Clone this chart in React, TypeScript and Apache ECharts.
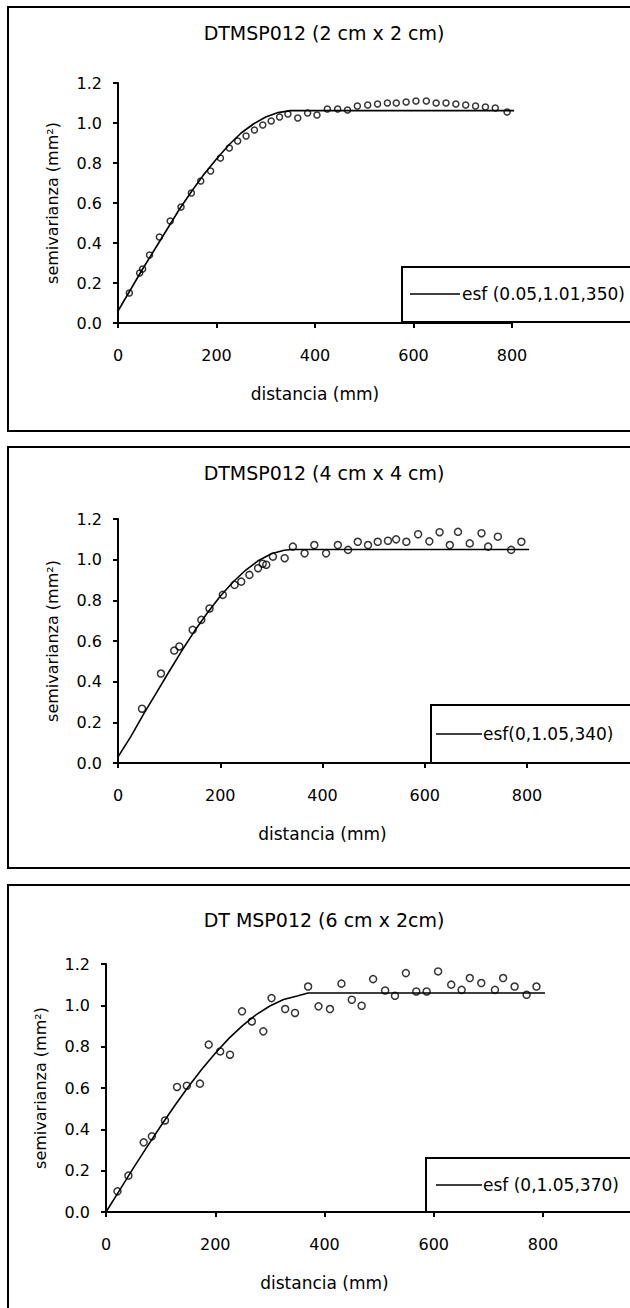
import React, { useEffect, useRef } from "react";
import * as echarts from "echarts";

// ---------- data ----------
const panelTitles = ["DTMSP012 (2 cm x 2 cm)", "DTMSP012 (4 cm x 4 cm)", "DT MSP012 (6 cm x 2cm)"];
const legendLabels = ["esf (0.05,1.01,350)", "esf(0,1.05,340)", "esf (0,1.05,370)"];
const xAxisName = "distancia (mm)";
const yAxisName = "semivarianza (mm²)";
const xTickStep = 200;
const xMax = 800;
const yTickStep = 0.2;
const yMax = 1.2;

// experimental semivariogram points [distance mm, semivariance]
const points1 = [
  [23, 0.15], [44, 0.25], [50, 0.27], [64, 0.34], [84, 0.43], [106, 0.51], [128, 0.58],
  [149, 0.65], [168, 0.71], [188, 0.76], [208, 0.825], [226, 0.875], [243, 0.91], [260, 0.935],
  [277, 0.965], [294, 0.99], [311, 1.01], [328, 1.03], [345, 1.045], [365, 1.025], [385, 1.05],
  [404, 1.04], [425, 1.07], [446, 1.07], [466, 1.065], [486, 1.085], [507, 1.09], [527, 1.095],
  [547, 1.1], [565, 1.1], [585, 1.105], [605, 1.11], [626, 1.11], [646, 1.1], [666, 1.1],
  [686, 1.095], [706, 1.09], [726, 1.085], [746, 1.08], [766, 1.075], [790, 1.055],
];
const points2 = [
  [47, 0.267], [84, 0.44], [110, 0.553], [120, 0.573], [146, 0.655], [163, 0.704], [179, 0.76],
  [205, 0.827], [228, 0.876], [241, 0.892], [257, 0.925], [274, 0.958], [283, 0.98], [290, 0.975],
  [303, 1.015], [326, 1.007], [342, 1.064], [365, 1.031], [384, 1.072], [407, 1.031], [430, 1.072],
  [450, 1.048], [469, 1.088], [489, 1.072], [508, 1.088], [528, 1.093], [544, 1.1], [564, 1.088],
  [587, 1.125], [609, 1.09], [629, 1.135], [649, 1.072], [665, 1.137], [688, 1.08], [711, 1.13],
  [724, 1.064], [743, 1.113], [769, 1.048], [789, 1.088],
];
const points3 = [
  [21, 0.1], [41, 0.176], [69, 0.337], [84, 0.366], [108, 0.443], [130, 0.605], [148, 0.611],
  [172, 0.621], [188, 0.81], [209, 0.777], [227, 0.761], [249, 0.971], [267, 0.922], [288, 0.874],
  [303, 1.035], [328, 0.982], [346, 0.963], [370, 1.091], [389, 0.995], [410, 0.982], [431, 1.105],
  [450, 1.027], [468, 0.998], [489, 1.127], [511, 1.072], [529, 1.046], [549, 1.156], [568, 1.067],
  [587, 1.067], [608, 1.164], [632, 1.1], [651, 1.075], [666, 1.132], [687, 1.108], [712, 1.075],
  [727, 1.132], [748, 1.091], [770, 1.051], [788, 1.091],
];

// fitted spherical model curves [distance mm, semivariance]
const model1 = [
  [0, 0.06], [25, 0.165], [50, 0.27], [75, 0.37], [100, 0.47], [125, 0.57], [150, 0.66],
  [175, 0.745], [200, 0.82], [225, 0.89], [250, 0.95], [275, 0.995], [300, 1.03], [325, 1.052],
  [350, 1.062], [830, 1.062],
];
const model2 = [
  [0, 0.03], [25, 0.13], [50, 0.24], [75, 0.345], [100, 0.45], [125, 0.553], [150, 0.65],
  [175, 0.739], [200, 0.82], [225, 0.89], [250, 0.949], [275, 0.996], [300, 1.029], [325, 1.046],
  [340, 1.05], [830, 1.05],
];
const model3 = [
  [0, 0.0], [25, 0.106], [50, 0.212], [75, 0.315], [100, 0.415], [125, 0.512], [150, 0.604],
  [175, 0.689], [200, 0.768], [225, 0.84], [250, 0.902], [275, 0.955], [300, 0.997], [325, 1.028],
  [350, 1.045], [370, 1.06], [815, 1.06],
];

const pointSets = [points1, points2, points3];
const modelSets = [model1, model2, model3];

// ---------- layout ----------
const FONT = "DejaVu Sans";
const grids = [
  { left: 118, top: 83, width: 394, height: 240 },
  { left: 118, top: 519, width: 409, height: 244 },
  { left: 106, top: 964, width: 437, height: 248 },
];
const frames = [
  { y: 7, h: 424 },
  { y: 447, h: 421 },
  { y: 885, h: 500 },
];
const titleY = [33, 473, 920];
const legendBoxes = [
  { x: 402, y: 267, h: 55, lx1: 410, lx2: 460, ly: 294, tx: 462 },
  { x: 431, y: 705, h: 58, lx1: 436, lx2: 482, ly: 734, tx: 483 },
  { x: 426, y: 1158, h: 54, lx1: 436, lx2: 482, ly: 1185, tx: 483 },
];
const markerSizes = [6, 7, 7];

export default function App() {
  const ref = useRef<HTMLDivElement>(null);

  useEffect(() => {
    if (!ref.current) return;
    const chart = echarts.init(ref.current, undefined, { renderer: "svg" });

    const graphic: any[] = [];
    frames.forEach((f) => {
      graphic.push({
        type: "rect",
        shape: { x: 8, y: f.y, width: 700, height: f.h },
        style: { fill: "none", stroke: "#000", lineWidth: 2 },
        z: 1,
      });
    });
    panelTitles.forEach((t, i) => {
      graphic.push({
        type: "text",
        x: 324,
        y: titleY[i],
        style: {
          text: t,
          fontSize: 19,
          fontFamily: FONT,
          fill: "#000",
          align: "center",
          verticalAlign: "middle",
        },
        z: 10,
      });
    });
    legendBoxes.forEach((b, i) => {
      graphic.push({
        type: "rect",
        shape: { x: b.x, y: b.y, width: 400, height: b.h },
        style: { fill: "#fff", stroke: "#000", lineWidth: 2 },
        z: 10,
      });
      graphic.push({
        type: "line",
        shape: { x1: b.lx1, y1: b.ly, x2: b.lx2, y2: b.ly },
        style: { stroke: "#000", lineWidth: 1.5 },
        z: 11,
      });
      graphic.push({
        type: "text",
        x: b.tx,
        y: b.ly,
        style: {
          text: legendLabels[i],
          fontSize: 17,
          fontFamily: FONT,
          fill: "#000",
          align: "left",
          verticalAlign: "middle",
        },
        z: 11,
      });
    });

    const axisCommon = {
      axisLine: { show: true, onZero: false, lineStyle: { color: "#000", width: 2 } },
      axisTick: { show: true, length: 5, lineStyle: { color: "#000", width: 2 } },
      splitLine: { show: false },
    };

    const option: any = {
      animation: false,
      backgroundColor: "#fff",
      textStyle: { fontFamily: FONT, color: "#000" },
      grid: grids.map((g) => ({ ...g, containLabel: false, outerBoundsMode: "none" })),
      xAxis: grids.map((_, i) => ({
        type: "value",
        gridIndex: i,
        min: 0,
        max: xMax,
        interval: xTickStep,
        ...axisCommon,
        axisLabel: { fontSize: 16, fontFamily: FONT, color: "#000", margin: 24 },
        name: xAxisName,
        nameLocation: "middle",
        nameGap: 62,
        nameTextStyle: { fontSize: 17, fontFamily: FONT, color: "#000" },
      })),
      yAxis: grids.map((_, i) => ({
        type: "value",
        gridIndex: i,
        min: 0,
        max: yMax,
        interval: yTickStep,
        ...axisCommon,
        axisLabel: {
          fontSize: 16,
          fontFamily: FONT,
          color: "#000",
          margin: 16,
          formatter: (v: number) => v.toFixed(1),
        },
        name: yAxisName,
        nameLocation: "middle",
        nameGap: 58,
        nameRotate: 90,
        nameTextStyle: { fontSize: 16, fontFamily: FONT, color: "#000" },
      })),
      series: [
        ...modelSets.map((m, i) => ({
          type: "line",
          name: legendLabels[i],
          xAxisIndex: i,
          yAxisIndex: i,
          data: m,
          showSymbol: false,
          symbol: "none",
          clip: false,
          lineStyle: { color: "#000", width: 1.6 },
          z: 3,
        })),
        ...pointSets.map((p, i) => ({
          type: "scatter",
          xAxisIndex: i,
          yAxisIndex: i,
          data: p,
          symbol: "circle",
          symbolSize: markerSizes[i],
          itemStyle: { color: "rgba(255,255,255,0)", borderColor: "#000", borderWidth: 1.5 },
          z: 4,
        })),
      ],
      graphic,
    };

    chart.setOption(option);
    return () => chart.dispose();
  }, []);

  return (
    <div
      ref={ref}
      style={{ position: "absolute", left: 0, top: 0, width: 630, height: 1308 }}
    />
  );
}
